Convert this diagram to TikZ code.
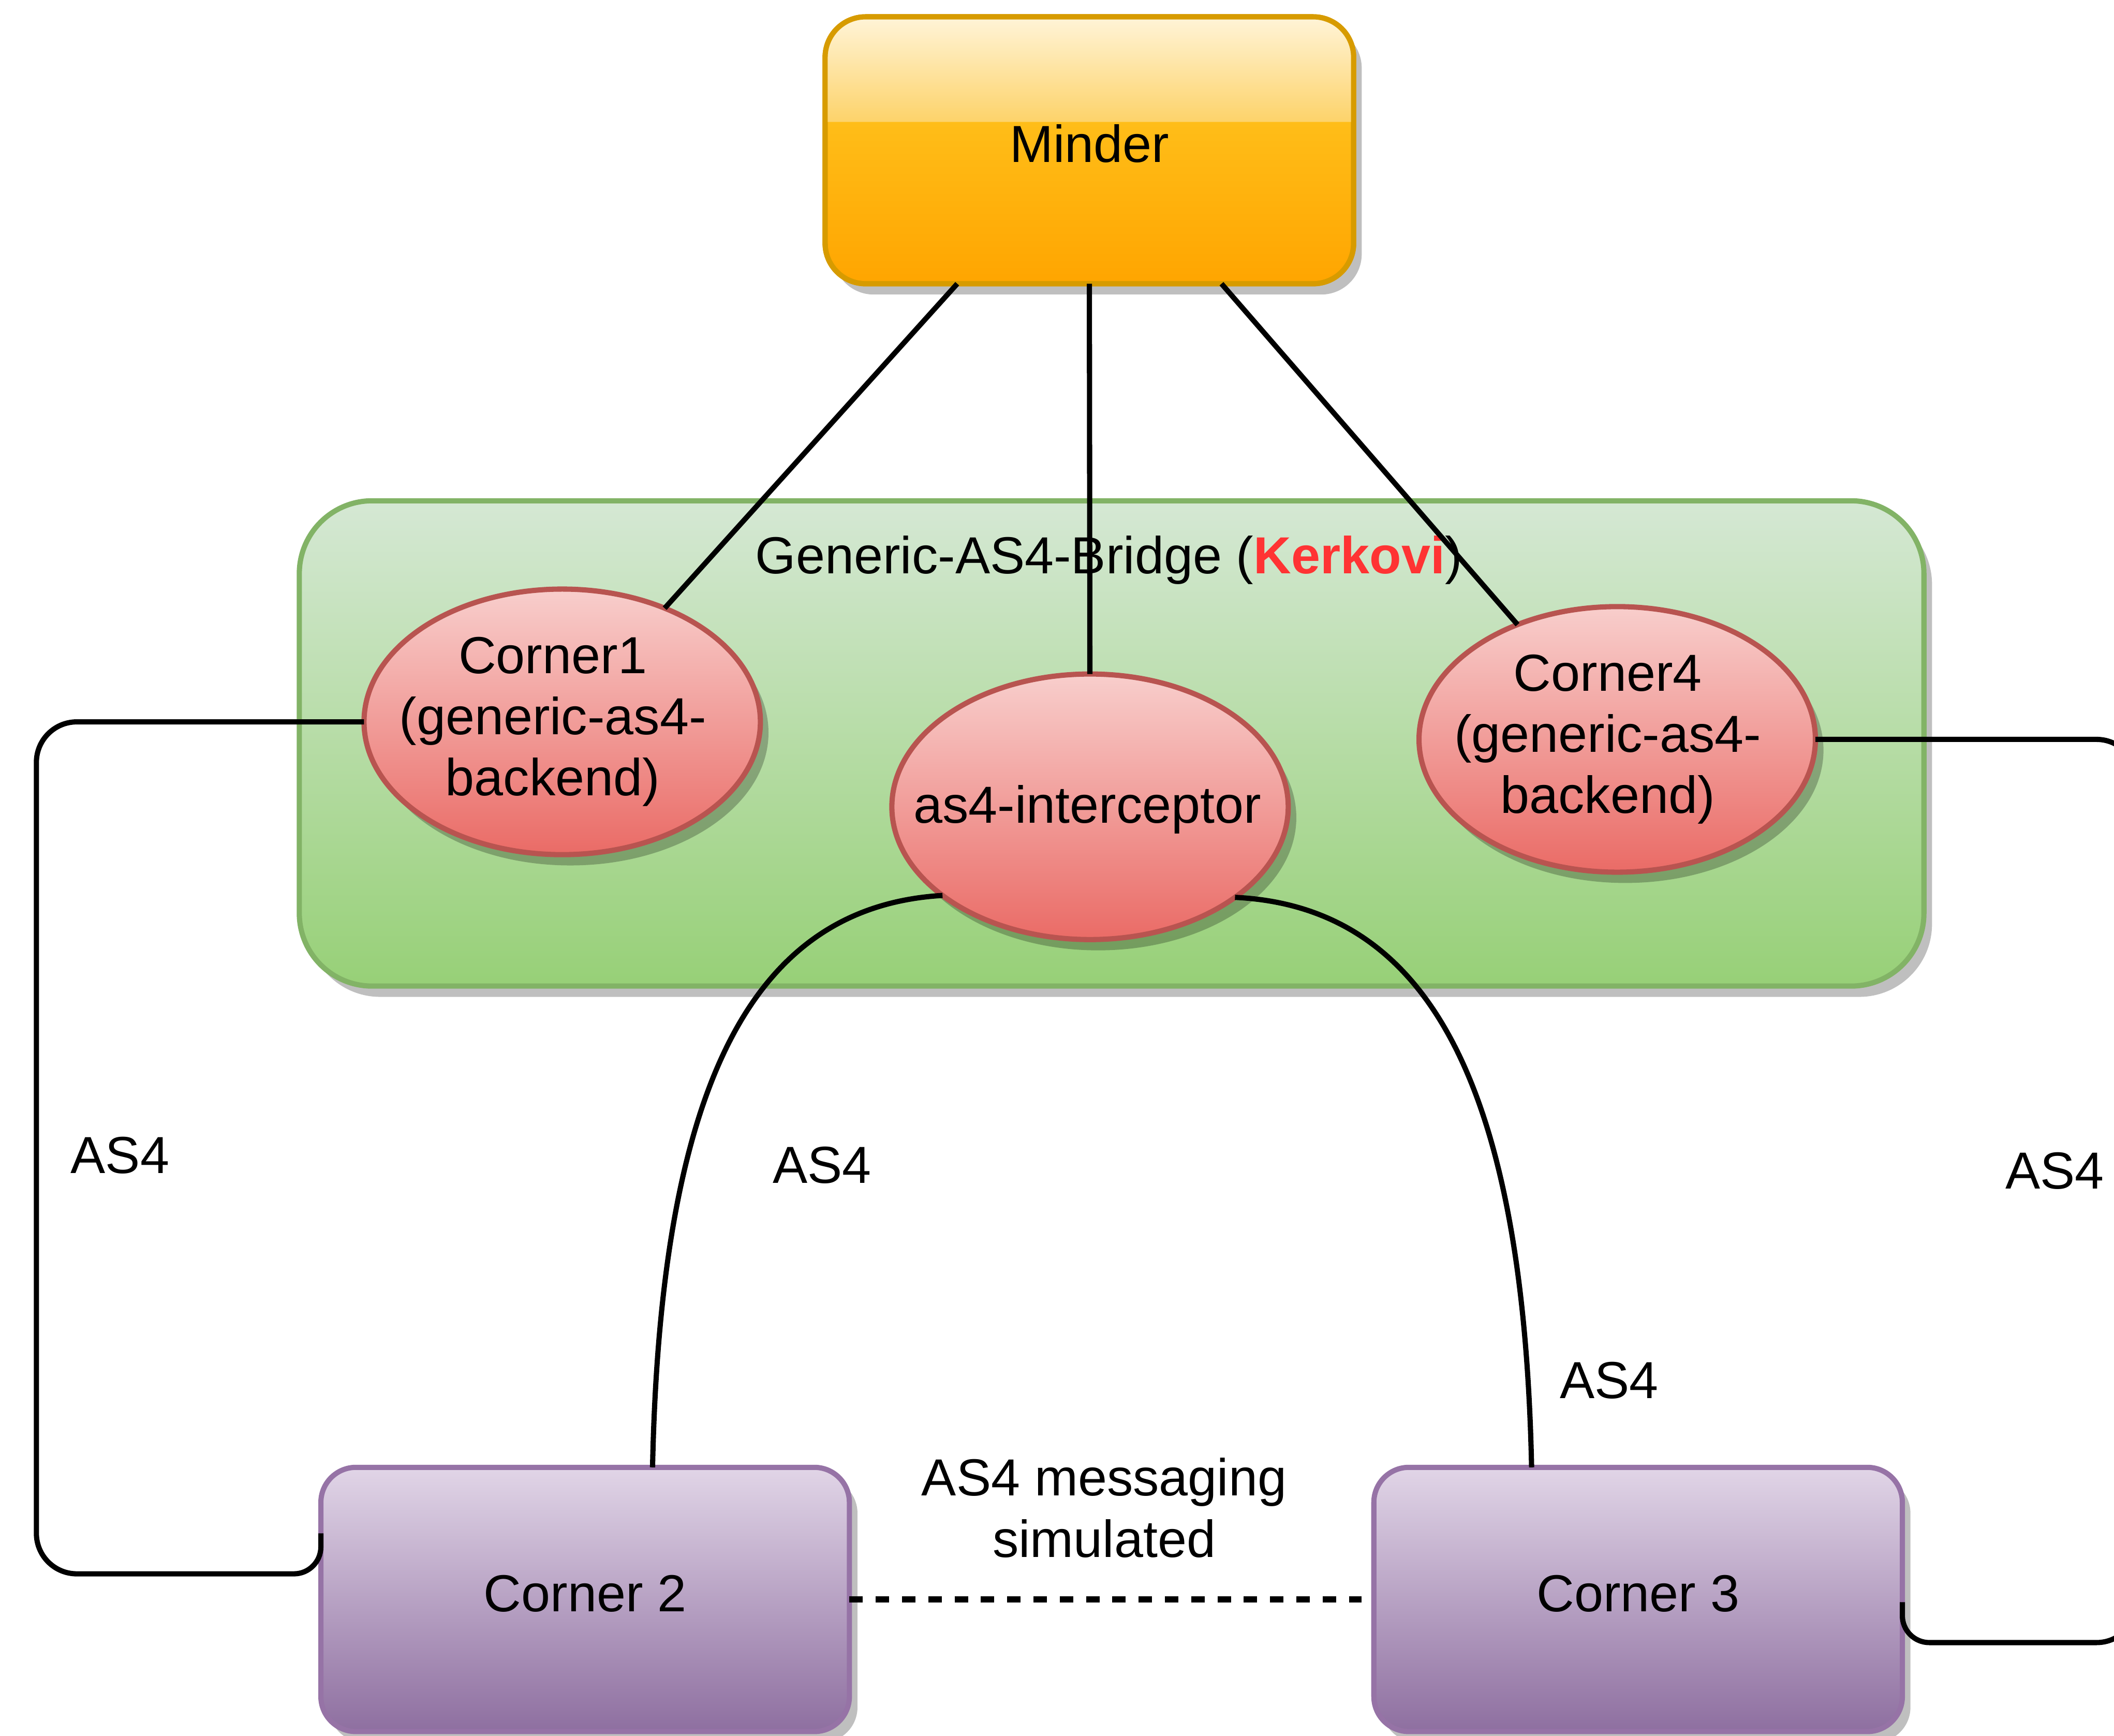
\documentclass[tikz,border=0pt]{standalone}
\usepackage{fontspec}
\setmainfont{Liberation Sans}
\usetikzlibrary{shapes.geometric,shadows,calc}

% Colours, named after their rgb values
\definecolor{r255g205b40}{rgb}{1.000000,0.803922,0.156863}%
\definecolor{r255g165b0}{rgb}{1.000000,0.647059,0.000000}%
\definecolor{r215g155b0}{rgb}{0.843137,0.607843,0.000000}%
\definecolor{r255g244b216}{rgb}{1.000000,0.956863,0.847059}%
\definecolor{r253g211b106}{rgb}{0.992157,0.827451,0.415686}%
\definecolor{r213g232b212}{rgb}{0.835294,0.909804,0.831373}%
\definecolor{r151g208b119}{rgb}{0.592157,0.815686,0.466667}%
\definecolor{r130g179b102}{rgb}{0.509804,0.701961,0.400000}%
\definecolor{r248g206b204}{rgb}{0.972549,0.807843,0.800000}%
\definecolor{r234g107b102}{rgb}{0.917647,0.419608,0.400000}%
\definecolor{r184g84b80}{rgb}{0.721569,0.329412,0.313725}%
\definecolor{r225g213b231}{rgb}{0.882353,0.835294,0.905882}%
\definecolor{r142g111b160}{rgb}{0.556863,0.435294,0.627451}%
\definecolor{r150g115b166}{rgb}{0.588235,0.450980,0.650980}%
\definecolor{r255g51b51}{rgb}{1.000000,0.200000,0.200000}%

\tikzset{
  link/.style={line width=1.1pt},
  simlink/.style={line width=1.3pt, dash pattern=on 0.10cm off 0.095cm},
  boxshadow/.style={drop shadow={shadow xshift=0.06cm, shadow yshift=-0.08cm, fill=black, opacity=0.25}},
  boxtext/.style={inner sep=0pt, text height=0.75em, text depth=0.25em},
  minderbox/.style={rectangle, rounded corners=0.3cm, draw=r215g155b0, line width=1.1pt,
    top color=r255g205b40, bottom color=r255g165b0, minimum width=3.92cm, minimum height=1.98cm,
    inner sep=0pt, outer sep=0pt, boxshadow},
  bridgebox/.style={rectangle, rounded corners=0.54cm, draw=r130g179b102, line width=1.1pt,
    top color=r213g232b212, bottom color=r151g208b119, minimum width=12.05cm, minimum height=3.60cm,
    inner sep=0pt, outer sep=0pt, boxshadow},
  cornerellipse/.style={ellipse, draw=r184g84b80, line width=1.1pt,
    top color=r248g206b204, bottom color=r234g107b102, minimum width=2.94cm, minimum height=1.97cm,
    inner sep=0pt, outer sep=0pt, boxshadow},
  ellipsetext/.style={align=center, inner sep=0pt},
  cornerbox/.style={rectangle, rounded corners=0.26cm, draw=r150g115b166, line width=1.1pt,
    top color=r225g213b231, bottom color=r142g111b160, minimum width=3.92cm, minimum height=1.96cm,
    inner sep=0pt, outer sep=0pt, boxtext, boxshadow},
}

\begin{document}
\begin{tikzpicture}[font=\fontsize{11pt}{12.9pt}\selectfont]
% \clip to the size of the picture
\useasboundingbox (0,0) rectangle (15.68,12.875);%
\clip (0,0) rectangle (15.68,12.875);%

% Drawing box Generic-AS4-Bridge
\node [bridgebox] (bridge) at (8.245,7.36) {};%
\node (bridgetitle) at (8.225,8.72) {Generic-AS4-Bridge (\textcolor{r255g51b51}{\bfseries Kerkovi})};%

% Drawing box Minder, with its glass top
\node [minderbox] (minder) at (8.08,11.76) {};%
\path [top color=r255g244b216, bottom color=r253g211b106] ([yshift=-0.78cm]minder.north west)
  [rounded corners=0.3cm] -- (minder.north west) -- (minder.north east)
  [sharp corners] -- ([yshift=-0.78cm]minder.north east) -- cycle;%
\draw [r215g155b0, line width=1.1pt, rounded corners=0.3cm] (minder.south west) rectangle (minder.north east);%
\node [boxtext] (mindertext) at (minder.center) {Minder};%

% Marking ellipse Corner1
\node [cornerellipse] (c1) at (4.17,7.52) {};%
\node [ellipsetext] (c1text) at ([xshift=-0.07cm]c1.center) {Corner1\\(generic-as4-\\backend)};%

% Marking ellipse as4-interceptor
\node [cornerellipse] (icpt) at (8.085,6.89) {};%
\node [ellipsetext] (icpttext) at ([shift={(-0.02,-0.02)}]icpt.center) {as4-interceptor};%

% Marking ellipse Corner4
\node [cornerellipse] (c4) at (11.995,7.39) {};%
\node [ellipsetext] (c4text) at ([xshift=-0.07cm]c4.center) {Corner4\\(generic-as4-\\backend)};%

% Drawing boxes Corner 2 and Corner 3
\node [cornerbox] (c2) at (4.34,1.01) {Corner 2};%
\node [cornerbox] (c3) at (12.15,1.01) {Corner 3};%

% Drawing segments from Minder
\draw [link] ($(minder.south west)!0.25!(minder.south east)$) -- (c1);%
\draw [link] (minder.south) -- (icpt);%
\draw [link] ($(minder.south west)!0.75!(minder.south east)$) -- (c4);%

% Drawing AS4 links round the outside
\draw [link, rounded corners=0.3cm] (c1.west) -| (0.27,1.20) [rounded corners=0.2cm] -| ([yshift=0.49cm]c2.west);%
\draw [link, rounded corners=0.3cm] (c4.east) -| (15.85,0.69) [rounded corners=0.2cm] -| ([yshift=-0.02cm]c3.east);%

% Drawing AS4 curves from the interceptor
\draw [link] (icpt.211.7) .. controls (5.60,6.15) and (4.90,4.87) .. ([xshift=0.50cm]c2.north);%
\draw [link] (icpt.328.4) .. controls (10.57,6.15) and (11.30,4.87) .. ([xshift=-0.79cm]c3.north);%

% Drawing simulated segment Corner 2 Corner 3
\draw [simlink] (c2.east) -- ([xshift=-0.09cm]c3.west);%

% Marking labels
\node (as4left) at (0.89,4.305) {AS4};%
\node (as4mid) at (6.097,4.231) {AS4};%
\node (as4right) at (15.24,4.19) {AS4};%
\node (as4low) at (11.935,2.635) {AS4};%
\node [align=center] (simlabel) at (8.19,1.69) {AS4 messaging\\simulated};%
\end{tikzpicture}
\end{document}
